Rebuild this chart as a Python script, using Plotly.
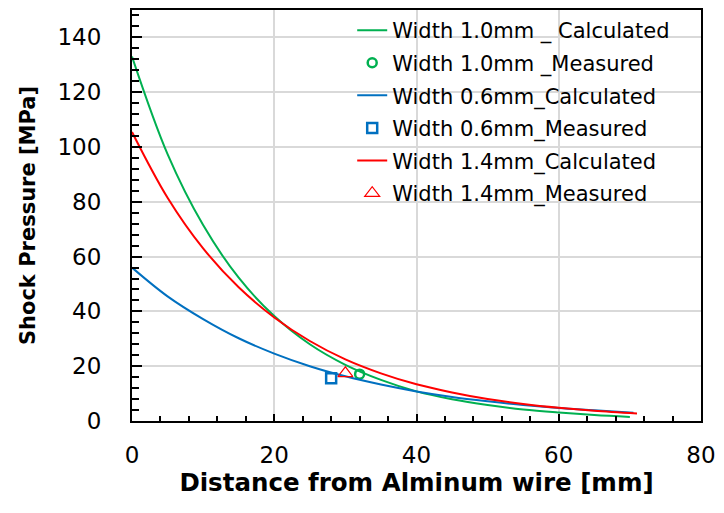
import plotly.graph_objects as go

# Distance from the aluminium wire [mm]
dist = [0, 5, 10, 15, 20, 25, 30, 35, 40, 45, 50, 55, 60, 65, 70]
dist_red = [0, 5, 10, 15, 20, 25, 30, 35, 40, 45, 50, 55, 60, 65, 71]
dist_blue = [0, 5, 10, 15, 20, 25, 30, 35, 40, 45, 50, 55, 60, 65, 70.5]

# Calculated shock pressure [MPa]
calc_w10 = [133, 97.4, 71.5, 52.3, 38.3, 28.0, 20.5, 15.0, 10.8, 7.9, 5.8, 4.2, 3.1, 2.2, 1.5]
calc_w06 = [56.0, 45.5, 37.2, 30.2, 24.6, 20.0, 16.3, 13.3, 10.8, 8.8, 7.2, 5.8, 4.7, 3.9, 3.0]
calc_w14 = [105.5, 81.5, 63.0, 48.8, 37.8, 29.2, 22.5, 17.4, 13.4, 10.4, 8.0, 6.2, 4.8, 3.7, 2.7]

# Measured shock pressure [MPa]
meas_w10_x, meas_w10_y = [32], [17.1]
meas_w06_x, meas_w06_y = [28], [15.6]
meas_w14_x, meas_w14_y = [30], [17.4]

GREEN = "#00b050"
BLUE = "#0070c0"
RED = "#ff0000"
FONT = "DejaVu Sans"

fig = go.Figure()

fig.add_trace(go.Scatter(x=dist, y=calc_w10, mode="lines", line=dict(color=GREEN, width=2, shape="spline"),
                         name="Width 1.0mm _ Calculated", legendgroup="g1"))
fig.add_trace(go.Scatter(x=meas_w10_x, y=meas_w10_y, mode="markers",
                         marker=dict(symbol="circle-open", color=GREEN, size=9, line=dict(width=2.5)),
                         name="Width 1.0mm _Measured", legendgroup="g2"))
fig.add_trace(go.Scatter(x=dist_blue, y=calc_w06, mode="lines", line=dict(color=BLUE, width=2, shape="spline"),
                         name="Width 0.6mm_Calculated", legendgroup="g3"))
fig.add_trace(go.Scatter(x=meas_w06_x, y=meas_w06_y, mode="markers",
                         marker=dict(symbol="square-open", color=BLUE, size=10, line=dict(width=2.5)),
                         name="Width 0.6mm_Measured", legendgroup="g4"))
fig.add_trace(go.Scatter(x=dist_red, y=calc_w14, mode="lines", line=dict(color=RED, width=2, shape="spline"),
                         name="Width 1.4mm_Calculated", legendgroup="g5"))
fig.add_trace(go.Scatter(x=meas_w14_x, y=meas_w14_y, mode="markers",
                         marker=dict(symbol="triangle-up-open", color=RED, size=13, line=dict(width=1.2)),
                         name="Width 1.4mm_Measured", legendgroup="g6"))

axis_common = dict(
    showline=True, linecolor="black", linewidth=2, mirror=True,
    ticks="inside", tickwidth=2, tickcolor="black",
    showgrid=True, gridcolor="#d9d9d9", gridwidth=1.5,
    zeroline=False,
    tickfont=dict(family=FONT, size=23, color="black"),
)

fig.update_xaxes(range=[0, 80], dtick=20, tick0=0, ticklen=7, ticklabelstandoff=12,
                 minor=dict(dtick=4, ticks="inside", ticklen=5, tickwidth=2, tickcolor="black", showgrid=False),
                 title=dict(text="<b>Distance from Alminum wire [mm]</b>",
                            font=dict(family=FONT, size=24.5, color="black"), standoff=6),
                 **axis_common)
fig.update_yaxes(range=[0, 150], dtick=20, tick0=0, ticklen=10, ticklabelstandoff=24,
                 minor=dict(dtick=4, ticks="inside", ticklen=7, tickwidth=2, tickcolor="black", showgrid=False),
                 title=dict(text="<b>Shock Pressure [MPa]</b>",
                            font=dict(family=FONT, size=21, color="black"), standoff=16),
                 **axis_common)

fig.update_layout(
    width=724, height=513,
    margin=dict(l=132, r=20, t=8, b=92),
    paper_bgcolor="white", plot_bgcolor="white",
    font=dict(family=FONT, color="black"),
    legend=dict(x=0.387, y=1.0, xanchor="left", yanchor="top",
                bgcolor="rgba(255,255,255,0)", borderwidth=0,
                font=dict(family=FONT, size=21, color="black"),
                traceorder="grouped", tracegroupgap=2.3),
)

fig.write_html("out.html")
